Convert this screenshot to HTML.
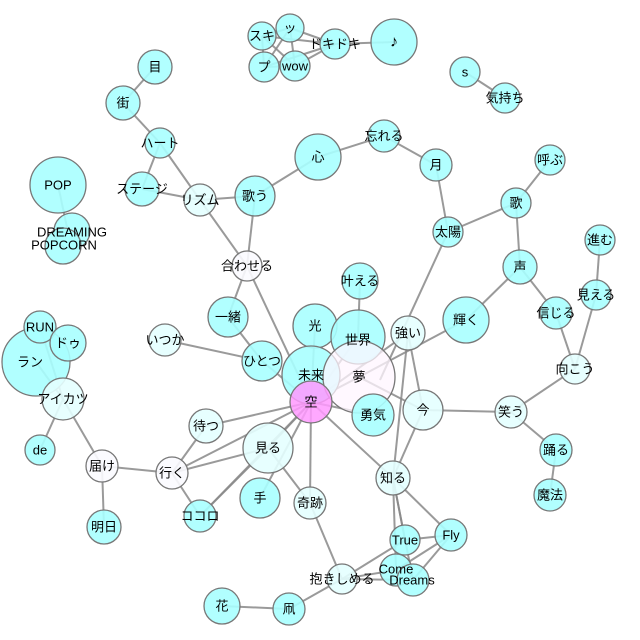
<!DOCTYPE html>
<html><head><meta charset="utf-8"><style>
html,body{margin:0;padding:0;background:#fff;}
svg{display:block;font-family:"Liberation Sans","Noto Sans CJK JP",sans-serif;}
text{font-size:13px;text-anchor:middle;dominant-baseline:central;fill:#000;}
line{stroke:#888;stroke-width:2;stroke-opacity:0.85;}
circle{stroke:#777;stroke-width:1.3;}
.c{fill:#a8ffff;fill-opacity:0.9}
.l{fill:#e4ffff;fill-opacity:0.9}
.w{fill:#fbfbff;fill-opacity:0.9}
</style></head><body>
<svg width="640" height="640" viewBox="0 0 640 640">
<g>
<line x1="155" y1="67" x2="123" y2="103"/>
<line x1="123" y1="103" x2="160" y2="143"/>
<line x1="160" y1="143" x2="142" y2="189"/>
<line x1="160" y1="143" x2="200" y2="200"/>
<line x1="142" y1="189" x2="200" y2="200"/>
<line x1="200" y1="200" x2="255" y2="196"/>
<line x1="255" y1="196" x2="318" y2="157"/>
<line x1="318" y1="157" x2="384" y2="136"/>
<line x1="384" y1="136" x2="436" y2="165"/>
<line x1="436" y1="165" x2="448" y2="232"/>
<line x1="448" y1="232" x2="516" y2="203"/>
<line x1="516" y1="203" x2="550" y2="160"/>
<line x1="516" y1="203" x2="520" y2="267"/>
<line x1="520" y1="267" x2="466" y2="320"/>
<line x1="520" y1="267" x2="556" y2="313"/>
<line x1="556" y1="313" x2="575" y2="369"/>
<line x1="600" y1="240" x2="596" y2="295"/>
<line x1="596" y1="295" x2="575" y2="369"/>
<line x1="575" y1="369" x2="511" y2="412"/>
<line x1="511" y1="412" x2="423" y2="410"/>
<line x1="511" y1="412" x2="556" y2="450"/>
<line x1="556" y1="450" x2="550" y2="495"/>
<line x1="448" y1="232" x2="380" y2="380"/>
<line x1="255" y1="196" x2="247" y2="266"/>
<line x1="200" y1="200" x2="247" y2="266"/>
<line x1="247" y1="266" x2="228" y2="317"/>
<line x1="247" y1="266" x2="311" y2="402"/>
<line x1="228" y1="317" x2="262" y2="361"/>
<line x1="165" y1="340" x2="262" y2="361"/>
<line x1="262" y1="361" x2="311" y2="402"/>
<line x1="315" y1="326" x2="311" y2="402"/>
<line x1="360" y1="281" x2="358" y2="337"/>
<line x1="358" y1="337" x2="311" y2="402"/>
<line x1="408" y1="333" x2="311" y2="402"/>
<line x1="408" y1="333" x2="393" y2="478"/>
<line x1="408" y1="333" x2="423" y2="410"/>
<line x1="466" y1="320" x2="359" y2="377"/>
<line x1="359" y1="377" x2="311" y2="402"/>
<line x1="359" y1="377" x2="423" y2="410"/>
<line x1="373" y1="415" x2="311" y2="402"/>
<line x1="423" y1="410" x2="393" y2="478"/>
<line x1="311" y1="402" x2="206" y2="426"/>
<line x1="311" y1="402" x2="268" y2="448"/>
<line x1="311" y1="402" x2="172" y2="473"/>
<line x1="311" y1="402" x2="200" y2="516"/>
<line x1="311" y1="402" x2="260" y2="498"/>
<line x1="311" y1="402" x2="310" y2="503"/>
<line x1="311" y1="402" x2="393" y2="478"/>
<line x1="268" y1="448" x2="172" y2="473"/>
<line x1="268" y1="448" x2="200" y2="516"/>
<line x1="268" y1="448" x2="310" y2="503"/>
<line x1="206" y1="426" x2="172" y2="473"/>
<line x1="172" y1="473" x2="200" y2="516"/>
<line x1="102" y1="466" x2="172" y2="473"/>
<line x1="102" y1="466" x2="63" y2="399"/>
<line x1="102" y1="466" x2="104" y2="527"/>
<line x1="63" y1="399" x2="36" y2="362"/>
<line x1="63" y1="399" x2="40" y2="327"/>
<line x1="63" y1="399" x2="40" y2="450"/>
<line x1="393" y1="478" x2="405" y2="540"/>
<line x1="393" y1="478" x2="451" y2="535"/>
<line x1="393" y1="478" x2="396" y2="570"/>
<line x1="393" y1="478" x2="413" y2="580"/>
<line x1="405" y1="540" x2="451" y2="535"/>
<line x1="405" y1="540" x2="342" y2="579"/>
<line x1="451" y1="535" x2="413" y2="580"/>
<line x1="451" y1="535" x2="396" y2="570"/>
<line x1="396" y1="570" x2="342" y2="579"/>
<line x1="413" y1="580" x2="342" y2="579"/>
<line x1="310" y1="503" x2="342" y2="579"/>
<line x1="342" y1="579" x2="289" y2="609"/>
<line x1="289" y1="609" x2="222" y2="606"/>
<line x1="262" y1="36" x2="290" y2="28"/>
<line x1="262" y1="36" x2="264" y2="67"/>
<line x1="262" y1="36" x2="295" y2="66"/>
<line x1="262" y1="36" x2="335" y2="44"/>
<line x1="290" y1="28" x2="264" y2="67"/>
<line x1="290" y1="28" x2="295" y2="66"/>
<line x1="290" y1="28" x2="335" y2="44"/>
<line x1="264" y1="67" x2="295" y2="66"/>
<line x1="264" y1="67" x2="335" y2="44"/>
<line x1="295" y1="66" x2="335" y2="44"/>
<line x1="335" y1="44" x2="394" y2="42"/>
<line x1="465" y1="72" x2="505" y2="98"/>
<line x1="58" y1="185" x2="68" y2="232"/>
</g>
<g>
<circle class="c" cx="155" cy="67" r="17"/>
<circle class="c" cx="123" cy="103" r="17"/>
<circle class="c" cx="160" cy="143" r="15"/>
<circle class="c" cx="142" cy="189" r="17"/>
<circle class="l" cx="200" cy="200" r="16"/>
<circle class="c" cx="255" cy="196" r="20"/>
<circle class="c" cx="318" cy="157" r="23"/>
<circle class="c" cx="384" cy="136" r="16"/>
<circle class="c" cx="436" cy="165" r="16"/>
<circle class="c" cx="58" cy="185" r="28"/>
<circle class="c" cx="72" cy="231" r="18"/>
<circle class="c" cx="63" cy="246" r="18"/>
<circle class="c" cx="262" cy="36" r="14"/>
<circle class="c" cx="290" cy="28" r="14"/>
<circle class="c" cx="264" cy="67" r="15"/>
<circle class="c" cx="295" cy="66" r="15"/>
<circle class="c" cx="335" cy="44" r="15"/>
<circle class="c" cx="394" cy="42" r="23"/>
<circle class="c" cx="465" cy="72" r="15"/>
<circle class="c" cx="505" cy="98" r="15"/>
<circle class="c" cx="550" cy="160" r="15"/>
<circle class="c" cx="516" cy="203" r="15"/>
<circle class="c" cx="448" cy="232" r="15"/>
<circle class="c" cx="600" cy="240" r="15"/>
<circle class="c" cx="520" cy="267" r="17"/>
<circle class="c" cx="596" cy="295" r="15"/>
<circle class="c" cx="556" cy="313" r="16"/>
<circle class="l" cx="575" cy="369" r="15"/>
<circle class="c" cx="466" cy="320" r="23"/>
<circle class="l" cx="511" cy="412" r="16"/>
<circle class="c" cx="556" cy="450" r="16"/>
<circle class="c" cx="550" cy="495" r="16"/>
<circle class="w" cx="247" cy="266" r="15"/>
<circle class="c" cx="360" cy="281" r="18"/>
<circle class="c" cx="228" cy="317" r="20"/>
<circle class="c" cx="315" cy="326" r="22"/>
<circle class="c" cx="358" cy="337" r="27"/>
<circle class="l" cx="408" cy="333" r="17"/>
<circle class="l" cx="165" cy="340" r="16"/>
<circle class="c" cx="262" cy="361" r="20"/>
<circle class="c" cx="311" cy="375" r="29"/>
<circle cx="359" cy="377" r="36" style="fill:#fff6ff;fill-opacity:0.75"/>
<circle class="c" cx="373" cy="415" r="21"/>
<circle cx="311" cy="402" r="21" style="fill:#ff99ff;fill-opacity:0.85"/>
<circle class="l" cx="423" cy="410" r="20"/>
<circle class="c" cx="36" cy="362" r="34"/>
<circle class="c" cx="40" cy="327" r="16"/>
<circle class="c" cx="68" cy="343" r="18"/>
<circle class="l" cx="63" cy="399" r="21"/>
<circle class="c" cx="40" cy="450" r="15"/>
<circle class="l" cx="206" cy="426" r="17"/>
<circle class="l" cx="268" cy="448" r="25"/>
<circle class="w" cx="102" cy="466" r="16"/>
<circle class="w" cx="172" cy="473" r="16"/>
<circle class="l" cx="393" cy="478" r="17"/>
<circle class="c" cx="260" cy="498" r="20"/>
<circle class="l" cx="310" cy="503" r="16"/>
<circle class="c" cx="200" cy="516" r="16"/>
<circle class="c" cx="104" cy="527" r="17"/>
<circle class="c" cx="405" cy="540" r="15"/>
<circle class="c" cx="451" cy="535" r="16"/>
<circle class="c" cx="396" cy="570" r="16"/>
<circle class="c" cx="413" cy="580" r="16"/>
<circle class="l" cx="342" cy="579" r="15"/>
<circle class="c" cx="222" cy="606" r="18"/>
<circle class="c" cx="289" cy="609" r="16"/>
</g>
<g>
<text x="155" y="67">目</text>
<text x="123" y="103">街</text>
<text x="160" y="143">ハート</text>
<text x="142" y="189">ステージ</text>
<text x="200" y="200">リズム</text>
<text x="255" y="196">歌う</text>
<text x="318" y="157">心</text>
<text x="384" y="136">忘れる</text>
<text x="436" y="165">月</text>
<text x="58" y="185">POP</text>
<text x="72" y="232">DREAMING</text>
<text x="64" y="245">POPCORN</text>
<text x="262" y="36">スキ</text>
<text x="290" y="28">ッ</text>
<text x="264" y="67">プ</text>
<text x="295" y="66">wow</text>
<text x="335" y="44">ドキドキ</text>
<text x="394" y="42" style="font-size:16px">♪</text>
<text x="465" y="72">s</text>
<text x="505" y="98">気持ち</text>
<text x="550" y="160">呼ぶ</text>
<text x="516" y="203">歌</text>
<text x="448" y="232">太陽</text>
<text x="600" y="240">進む</text>
<text x="520" y="267">声</text>
<text x="596" y="295">見える</text>
<text x="556" y="313">信じる</text>
<text x="575" y="369">向こう</text>
<text x="466" y="320">輝く</text>
<text x="511" y="412">笑う</text>
<text x="556" y="450">踊る</text>
<text x="550" y="495">魔法</text>
<text x="247" y="266">合わせる</text>
<text x="360" y="281">叶える</text>
<text x="228" y="317">一緒</text>
<text x="315" y="326">光</text>
<text x="358" y="340">世界</text>
<text x="408" y="333">強い</text>
<text x="165" y="340">いつか</text>
<text x="262" y="361">ひとつ</text>
<text x="311" y="375">未来</text>
<text x="359" y="377">夢</text>
<text x="373" y="415">勇気</text>
<text x="311" y="402">空</text>
<text x="423" y="410">今</text>
<text x="30" y="362">ラン</text>
<text x="40" y="327">RUN</text>
<text x="68" y="343">ドゥ</text>
<text x="63" y="399">アイカツ</text>
<text x="40" y="450">de</text>
<text x="206" y="426">待つ</text>
<text x="268" y="448">見る</text>
<text x="102" y="466">届け</text>
<text x="172" y="473">行く</text>
<text x="393" y="478">知る</text>
<text x="260" y="498">手</text>
<text x="310" y="503">奇跡</text>
<text x="200" y="516">ココロ</text>
<text x="104" y="527">明日</text>
<text x="405" y="540">True</text>
<text x="451" y="535">Fly</text>
<text x="396" y="569">Come</text>
<text x="412" y="580">Dreams</text>
<text x="342" y="579">抱きしめる</text>
<text x="222" y="606">花</text>
<text x="289" y="609">凧</text>
</g>
</svg>
</body></html>
